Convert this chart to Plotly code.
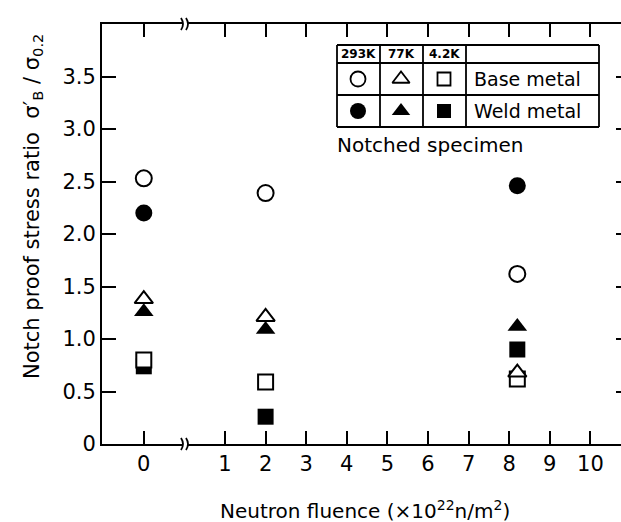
import plotly.graph_objects as go

# ---------------- data ----------------
fluence = [0, 2, 8.2]            # neutron fluence (x10^22 n/m^2)
base_293K = [2.53, 2.39, 1.62]   # open circle
weld_293K = [2.20, None, 2.46]   # filled circle
base_77K = [1.38, 1.21, 0.68]    # open triangle
weld_77K = [1.26, 1.09, 1.12]    # filled triangle
base_4K = [0.80, 0.59, 0.62]     # open square
weld_4K = [0.74, 0.26, 0.90]     # filled square

x_tick_vals = [0, 1, 2, 3, 4, 5, 6, 7, 8, 9, 10]
x_tick_text = ["0", "1", "2", "3", "4", "5", "6", "7", "8", "9", "10"]
y_tick_vals = [0, 0.5, 1.0, 1.5, 2.0, 2.5, 3.0, 3.5]
y_tick_text = ["0", "0.5", "1.0", "1.5", "2.0", "2.5", "3.0", "3.5"]

# broken axis: fluence 0 is drawn one unit left of the break
def pos(f):
    return -1.0 if f == 0 else f

# ---------------- layout geometry (pixels) ----------------
W, H = 621, 522
L, R, T, B = 102, 0, 24, 78
PW, PH = W - L - R, H - T - B
FONT = "DejaVu Sans"

def px(x):
    return (x - L) / PW

def py(y):
    return (H - B - y) / PH

fig = go.Figure()

def add(vals, symbol, filled, size):
    xs = [pos(f) for f, v in zip(fluence, vals) if v is not None]
    ys = [v for v in vals if v is not None]
    fig.add_trace(go.Scatter(
        x=xs, y=ys, mode="markers", showlegend=False, cliponaxis=False,
        marker=dict(symbol=symbol, size=size, opacity=1,
                    color="black" if filled else "white",
                    line=dict(color="black", width=0 if filled else 2))))

# filled first, open (white-filled) on top
add(weld_4K, "square", True, 16)
add(weld_77K, "triangle-up", True, 17)
add(weld_293K, "circle", True, 17)
add(base_4K, "square", False, 15)
add(base_77K, "triangle-up", False, 16)
add(base_293K, "circle", False, 16)

# legend-table symbols on an auxiliary pixel axis
leg_cols_x = [358, 401, 444]
leg_sym = ["circle", "triangle-up", "square"]
leg_size_open = [15, 15, 13]
leg_size_fill = [16, 16, 14]
for xx, sym, so, sf in zip(leg_cols_x, leg_sym, leg_size_open, leg_size_fill):
    fig.add_trace(go.Scatter(
        x=[xx], y=[79], xaxis="x2", yaxis="y2", mode="markers", showlegend=False,
        marker=dict(symbol=sym, color="white", size=so, opacity=1,
                    line=dict(color="black", width=1.8))))
    fig.add_trace(go.Scatter(
        x=[xx], y=[111], xaxis="x2", yaxis="y2", mode="markers", showlegend=False,
        marker=dict(symbol=sym, color="black", size=sf, opacity=1,
                    line=dict(color="black", width=0))))

shapes = []
# table lines
for yy in [45, 63, 95, 127]:
    shapes.append(dict(type="line", xref="paper", yref="paper",
                       x0=px(337), x1=px(599), y0=py(yy), y1=py(yy),
                       line=dict(color="black", width=1.8)))
for xx in [337, 380, 423, 466, 599]:
    shapes.append(dict(type="line", xref="paper", yref="paper",
                       x0=px(xx), x1=px(xx), y0=py(45), y1=py(127),
                       line=dict(color="black", width=1.8)))
# axis break marks (bottom and top)
for yc in [H - B, T]:
    shapes.append(dict(type="rect", xref="paper", yref="paper",
                       x0=px(183), x1=px(188), y0=py(yc - 3), y1=py(yc + 3),
                       line=dict(width=0), fillcolor="white", layer="above"))
    for xc in [182.5, 187.5]:
        path = "M {},{} Q {},{} {},{}".format(
            px(xc - 1.5), py(yc - 6), px(xc + 2.5), py(yc), px(xc - 1.5), py(yc + 6))
        shapes.append(dict(type="path", xref="paper", yref="paper", path=path,
                           line=dict(color="black", width=1.8), layer="above"))

annotations = []
for txt, xx in [("293K", 358), ("77K", 401), ("4.2K", 444)]:
    annotations.append(dict(text="<b>" + txt + "</b>", xref="paper", yref="paper",
                            x=px(xx), y=py(54), showarrow=False,
                            xanchor="center", yanchor="middle",
                            font=dict(family=FONT, size=12, color="black")))
for txt, yy in [("Base metal", 79), ("Weld metal", 111)]:
    annotations.append(dict(text=txt, xref="paper", yref="paper",
                            x=px(472), y=py(yy), showarrow=False,
                            xanchor="left", yanchor="middle",
                            font=dict(family=FONT, size=19, color="black")))
annotations.append(dict(text="Notched specimen", xref="paper", yref="paper",
                        x=px(335), y=py(145), showarrow=False,
                        xanchor="left", yanchor="middle",
                        font=dict(family=FONT, size=20, color="black")))
annotations.append(dict(text="Neutron fluence (×10<sup>22</sup>n/m<sup>2</sup>)",
                        xref="paper", yref="paper", x=px(365), y=py(510),
                        showarrow=False, xanchor="center", yanchor="middle",
                        font=dict(family=FONT, size=20, color="black")))
annotations.append(dict(text="Notch proof stress ratio  σ′<sub>B</sub> / σ<sub>0.2</sub>",
                        xref="paper", yref="paper", x=px(33), y=py(207),
                        textangle=-90, showarrow=False,
                        xanchor="center", yanchor="middle",
                        font=dict(family=FONT, size=21, color="black")))

x_left = 1 - (225 - L) / 40.6
x_right = 1 + (W - R - 225) / 40.6

fig.update_layout(
    width=W, height=H, margin=dict(l=L, r=R, t=T, b=B, autoexpand=False),
    paper_bgcolor="white", plot_bgcolor="white",
    font=dict(family=FONT, size=20, color="black"),
    xaxis=dict(range=[x_left, x_right],
               tickvals=[pos(v) for v in x_tick_vals], ticktext=x_tick_text,
               ticks="inside", ticklen=13, tickwidth=2, tickcolor="black",
               showline=True, linewidth=2, linecolor="black", mirror="ticks",
               showgrid=False, zeroline=False,
               tickfont=dict(family=FONT, size=21, color="black")),
    yaxis=dict(range=[0, 4], tickvals=y_tick_vals, ticktext=y_tick_text,
               ticks="inside", ticklen=14, tickwidth=2, tickcolor="black",
               showline=True, linewidth=2, linecolor="black", mirror=False,
               showgrid=False, zeroline=False,
               tickfont=dict(family=FONT, size=21, color="black")),
    yaxis3=dict(range=[0, 4], overlaying="y", side="right",
                tickvals=y_tick_vals[1:], showticklabels=False,
                ticks="inside", ticklen=5, tickwidth=2, tickcolor="black",
                showline=False, showgrid=False, zeroline=False),
    xaxis2=dict(range=[L, W - R], overlaying="x", visible=False),
    yaxis2=dict(range=[H - B, T], overlaying="y", visible=False),
    shapes=shapes, annotations=annotations,
)
# dummy trace to activate yaxis3
fig.add_trace(go.Scatter(x=[None], y=[None], yaxis="y3", showlegend=False))

fig.write_html("out.html")
